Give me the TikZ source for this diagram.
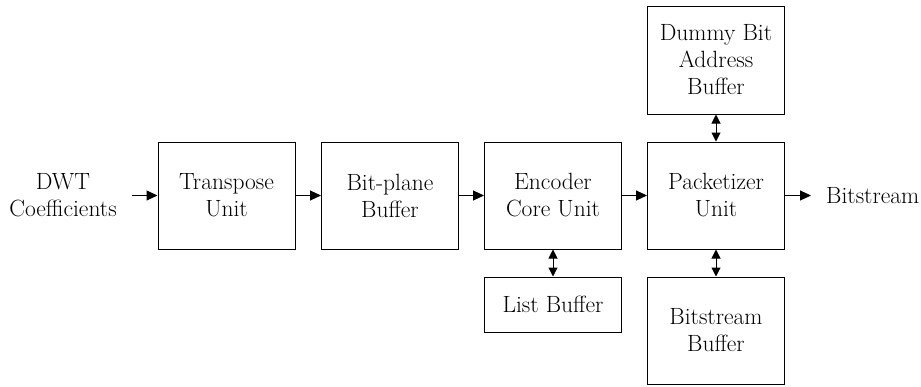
\documentclass[tikz,border=0pt]{standalone}
\usepackage{fontspec}
\usetikzlibrary{arrows.meta}
\begin{document}
\begin{tikzpicture}[x=1pt,y=-1pt,
  font=\rmfamily\fontsize{23.5pt}{27pt}\selectfont,
  blk/.style={draw,line width=1pt,minimum width=137pt,align=center,inner sep=0pt},
  tip/.style={line width=1pt,-{Triangle[length=11pt,width=10pt]}},
  both/.style={line width=1pt,{Triangle[length=9pt,width=9pt]}-{Triangle[length=9pt,width=9pt]}},
  lbl/.style={align=center,inner sep=0pt}]
\useasboundingbox (0,0) rectangle (921,386);
% main chain
\node[blk,minimum height=107pt] (tr) at (226.5,195.5) {Transpose\\Unit};
\node[blk,minimum height=107pt] (bp) at (390,195.5) {Bit-plane\\Buffer};
\node[blk,minimum height=107pt] (ec) at (553,195.5) {Encoder\\Core Unit};
\node[blk,minimum height=107pt] (pk) at (716,195.5) {Packetizer\\Unit};
% side buffers
\node[blk,minimum height=108pt] (db) at (716,60) {Dummy Bit\\Address\\Buffer};
\node[blk,minimum height=55pt] (lb) at (553,304.5) {List Buffer};
\node[blk,minimum height=107pt] (bb) at (716,330.5) {Bitstream\\Buffer};
% input and output labels
\node[lbl] (in) at (63,195.5) {DWT\\Coefficients};
\node[lbl,anchor=west] (out) at (826,195.5) {Bitstream};
\coordinate (inend) at (132,195.5);
\coordinate (outend) at (811,195.5);
% data flow
\draw[tip] (inend) -- (tr);
\draw[tip] (tr) -- (bp);
\draw[tip] (bp) -- (ec);
\draw[tip] (ec) -- (pk);
\draw[tip] (pk) -- (outend);
\draw[both] (db) -- (pk);
\draw[both] (ec) -- (lb);
\draw[both] (pk) -- (bb);
\end{tikzpicture}
\end{document}
